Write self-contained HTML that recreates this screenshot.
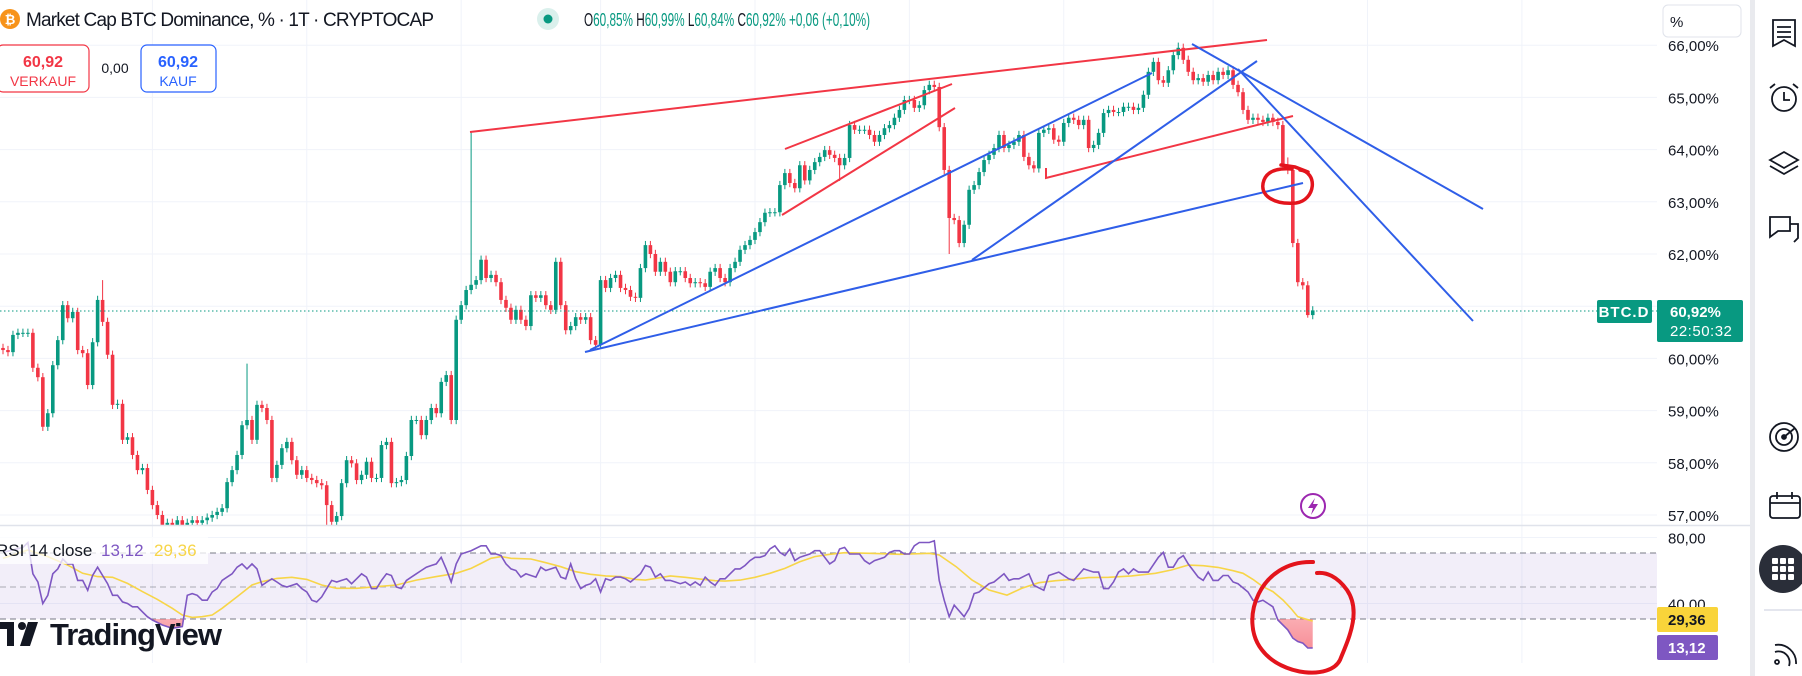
<!DOCTYPE html>
<html><head><meta charset="utf-8">
<style>
html,body{margin:0;padding:0;background:#fff;}
body{width:1802px;height:676px;overflow:hidden;font-family:"Liberation Sans",sans-serif;}
svg{display:block}
</style></head>
<body>
<svg id="chart" width="1802" height="676" viewBox="0 0 1802 676" xmlns="http://www.w3.org/2000/svg">
<defs>
<clipPath id="mainClip"><rect x="0" y="0" width="1657" height="525"/></clipPath>
<clipPath id="rsiClip"><rect x="0" y="526" width="1657" height="137"/></clipPath>
<clipPath id="below30"><rect x="0" y="619" width="1657" height="44"/></clipPath>
<linearGradient id="pinkGrad" x1="0" y1="0" x2="0" y2="1"><stop offset="0" stop-color="#ffffff" stop-opacity="0.6"/><stop offset="1" stop-color="#f23645" stop-opacity="0.55"/></linearGradient>
</defs>
<g id="grid"></g>
<g id="candles" clip-path="url(#mainClip)"></g>
<line x1="0" y1="311" x2="1657" y2="311" stroke="#089981" stroke-width="1" stroke-dasharray="1.5,2.5"/>
<g id="drawings" fill="none" stroke-width="2">
<line x1="470" y1="132" x2="1267" y2="40" stroke="#f23645"/>
<line x1="785" y1="149" x2="952" y2="84" stroke="#f23645"/>
<line x1="782" y1="215" x2="955" y2="108" stroke="#f23645"/>
<polyline points="1046,168 1046,178 1293,116" stroke="#f23645"/>
<line x1="585" y1="352" x2="1303" y2="183" stroke="#2f5ee8"/>
<line x1="590" y1="350" x2="1152" y2="73" stroke="#2f5ee8"/>
<line x1="972" y1="260" x2="1257" y2="61" stroke="#2f5ee8"/>
<line x1="1192" y1="44" x2="1483" y2="209" stroke="#2f5ee8"/>
<line x1="1238" y1="69" x2="1473" y2="321" stroke="#2f5ee8"/>
<path d="M1281,165 L1295,167 L1308,172 M1300,170 C1318,172 1316,200 1296,203 C1275,205 1258,196 1264,180 C1268,170 1280,168 1292,169" stroke="#e3141c" stroke-width="3.5" stroke-linecap="round"/>
</g>
<g>
<circle cx="1313" cy="506" r="12" fill="#fff" stroke="#9c27b0" stroke-width="2"/>
<path d="M1315,498 L1308,508 L1313,508 L1311,515 L1318,504 L1313,504 Z" fill="#9c27b0"/>
</g>
<line x1="0" y1="525.5" x2="1752" y2="525.5" stroke="#e0e3eb" stroke-width="1.5"/>
<g id="rsi">
<rect x="0" y="553" width="1657" height="66" fill="#7e57c2" fill-opacity="0.1"/>
<line x1="0" y1="553" x2="1657" y2="553" stroke="#787b86" stroke-dasharray="6,4"/>
<line x1="0" y1="587" x2="1657" y2="587" stroke="#787b86" stroke-opacity="0.6" stroke-dasharray="6,4"/>
<line x1="0" y1="619" x2="1657" y2="619" stroke="#787b86" stroke-dasharray="6,4"/>
<g id="rsiLines" clip-path="url(#rsiClip)"></g>
</g>
<path d="M1313,562 C1260,560 1238,620 1262,650 C1282,676 1330,680 1340,660 C1348,640 1362,612 1347,590 C1337,576 1326,572 1317,573" fill="none" stroke="#e3141c" stroke-width="4" stroke-linecap="round"/>
<g>
<rect x="0" y="537" width="208" height="27" fill="#fff" fill-opacity="0.75"/>
<text x="-4" y="556" font-size="17" fill="#131722">RSI 14 close</text>
<text x="101" y="556" font-size="17" fill="#7e57c2">13,12</text>
<text x="154" y="556" font-size="17" fill="#f7d548">29,36</text>
</g>
<g>
<rect x="0" y="622" width="14" height="7" fill="#131722"/>
<rect x="7" y="622" width="7" height="24" fill="#131722"/>
<circle cx="22" cy="626" r="4" fill="#131722"/>
<path d="M28,622 L38,622 L30,646 L20,646 Z" fill="#131722"/>
<text x="50" y="645" font-size="31" font-weight="bold" fill="#131722" textLength="172">TradingView</text>
</g>
<!-- header -->
<g>
<circle cx="10" cy="19" r="10" fill="#f7931a"/>
<text x="10" y="24" font-size="13" font-weight="bold" fill="#fff" text-anchor="middle">₿</text>
<text x="26" y="26" font-size="19" fill="#131722" textLength="408">Market Cap BTC Dominance, % · 1T · CRYPTOCAP</text>
<circle cx="548" cy="19" r="11" fill="#089981" fill-opacity="0.15"/>
<circle cx="548" cy="19" r="4.5" fill="#089981"/>
<text x="584" y="26" font-size="18" textLength="286" lengthAdjust="spacingAndGlyphs"><tspan fill="#131722">O</tspan><tspan fill="#089981">60,85%</tspan><tspan fill="#131722"> H</tspan><tspan fill="#089981">60,99%</tspan><tspan fill="#131722"> L</tspan><tspan fill="#089981">60,84%</tspan><tspan fill="#131722"> C</tspan><tspan fill="#089981">60,92% +0,06 (+0,10%)</tspan></text>
</g>
<g>
<rect x="-3" y="45" width="92" height="47" rx="6" fill="#fff" stroke="#f23645" stroke-width="1.2"/>
<text x="43" y="67" font-size="16" font-weight="bold" fill="#f23645" text-anchor="middle">60,92</text>
<text x="43" y="86" font-size="14" fill="#f23645" text-anchor="middle">VERKAUF</text>
</g>
<text x="115" y="73" font-size="14" fill="#131722" text-anchor="middle">0,00</text>
<g>
<rect x="141" y="45" width="75" height="47" rx="6" fill="#fff" stroke="#2962ff" stroke-width="1.2"/>
<text x="178" y="67" font-size="16" font-weight="bold" fill="#2962ff" text-anchor="middle">60,92</text>
<text x="178" y="86" font-size="14" fill="#2962ff" text-anchor="middle">KAUF</text>
</g>
<!-- right axis -->
<g id="axis"></g>
<g>
<rect x="1663" y="5" width="78" height="32" rx="5" fill="#fff" stroke="#e0e3eb"/>
<text x="1670" y="27" font-size="15" fill="#131722">%</text>
</g>
<g>
<rect x="1597" y="300" width="55" height="23" rx="2" fill="#089981"/>
<text x="1624" y="317" font-size="15" font-weight="bold" fill="#fff" text-anchor="middle" letter-spacing="1">BTC.D</text>
</g>
<g>
<rect x="1657" y="300" width="86" height="42" rx="2" fill="#089981"/>
<text x="1670" y="317" font-size="15" font-weight="bold" fill="#fff">60,92%</text>
<text x="1670" y="336" font-size="15" fill="#fff" letter-spacing="0.5">22:50:32</text>
</g>
<g>
<rect x="1657" y="607" width="61" height="25" rx="2" fill="#f9d43a"/>
<text x="1668" y="625" font-size="15" font-weight="bold" fill="#131722">29,36</text>
</g>
<g>
<rect x="1657" y="635" width="61" height="25" rx="2" fill="#7e57c2"/>
<text x="1668" y="653" font-size="15" font-weight="bold" fill="#fff">13,12</text>
</g>
<!-- sidebar -->
<rect x="1750" y="0" width="5" height="676" fill="#e9eaee"/>
<g fill="none" stroke="#131722" stroke-width="1.8">
<g><path d="M1773,20 L1795,20 L1795,46 L1784,40 L1773,46 Z"/><path d="M1777,27 H1791 M1777,32 H1791 M1777,37 H1791"/></g>
<g><circle cx="1784" cy="99" r="12"/><path d="M1784,92 V100 H1790 M1770,88 L1775,84 M1798,88 L1793,84"/></g>
<g><path d="M1770,160 L1784,152 L1798,160 L1784,168 Z M1770,166 L1784,174 L1798,166"/></g>
<g><path d="M1770,217 H1790 V231 H1778 L1770,237 Z M1790,224 H1798 V238 L1794,242"/></g>
<g><circle cx="1784" cy="437" r="14"/><circle cx="1784" cy="437" r="8"/><circle cx="1784" cy="437" r="2" fill="#131722"/><path d="M1784,437 L1795,428"/></g>
<g><rect x="1770" y="496" width="30" height="22" rx="3"/><path d="M1770,503 H1800 M1777,492 V499 M1792,492 V499"/></g>
<line x1="1764" y1="610" x2="1802" y2="610" stroke="#e0e3eb"/>
<g><path d="M1775,645 A18,18 0 0 1 1796,664 M1775,652 A11,11 0 0 1 1789,666"/><circle cx="1777" cy="662" r="2"/></g>
</g>
<g>
<circle cx="1783" cy="569" r="24" fill="#2a2e39"/>
<g id="dots" fill="#fff"></g>
</g>
</svg>
<script>
// ---- data ----
const firstOpen = 60.20;
const closes = [
60.16,60.12,60.45,60.49,60.49,60.49,59.82,59.64,58.69,58.95,
59.87,60.35,61.02,60.77,60.89,60.16,60.10,59.49,60.31,61.12,
60.70,60.07,59.11,59.13,58.44,58.49,58.15,57.86,57.90,57.48,
57.19,57.00,56.81,56.85,56.81,56.90,56.81,56.85,56.90,56.85,
56.90,56.95,57.00,57.06,57.13,57.63,57.86,58.15,58.72,58.82,
58.44,59.11,59.05,58.82,57.71,57.96,58.28,58.40,58.05,57.77,
57.86,57.71,57.67,57.61,57.57,57.19,56.87,56.98,57.61,58.05,
57.99,57.67,57.77,58.02,57.71,57.71,58.34,58.40,57.61,57.63,
57.67,58.13,58.82,58.82,58.53,58.82,59.05,58.95,59.55,59.68,
58.82,60.74,61.02,61.31,61.41,61.50,61.89,61.54,61.60,61.46,
61.12,60.97,60.74,60.93,60.74,60.62,61.21,61.16,61.21,61.02,
60.93,61.85,61.02,60.54,60.62,60.79,60.74,60.79,60.35,60.26,
61.50,61.35,61.54,61.60,61.35,61.31,61.18,61.16,61.73,62.17,
62.00,61.66,61.85,61.66,61.46,61.67,61.67,61.54,61.44,61.46,
61.44,61.37,61.66,61.73,61.54,61.46,61.73,61.85,62.08,62.17,
62.27,62.42,62.61,62.79,62.80,62.80,63.32,63.55,63.36,63.26,
63.70,63.41,63.61,63.76,63.86,63.99,63.90,63.84,63.70,63.84,
64.47,64.38,64.38,64.38,64.28,64.15,64.28,64.41,64.47,64.61,
64.76,64.95,64.95,64.80,64.85,65.14,65.24,65.20,64.43,63.61,
62.69,62.65,62.21,62.56,63.23,63.32,63.57,63.80,63.90,64.03,
64.28,64.03,64.09,64.15,64.28,63.86,63.70,63.64,64.32,64.38,
64.41,64.19,64.15,64.51,64.61,64.57,64.47,64.57,64.03,64.09,
64.32,64.70,64.76,64.72,64.72,64.82,64.82,64.76,64.80,65.05,
65.49,65.68,65.33,65.28,65.52,65.81,65.95,65.72,65.49,65.33,
65.37,65.30,65.43,65.33,65.49,65.43,65.52,65.24,65.10,64.76,
64.57,64.61,64.57,64.53,64.61,64.53,64.47,63.70,63.61,62.21,
61.46,61.40,60.83,60.92];
const spikeIdx = [20, 49, 94, 236, 258];
const spikeHigh = [61.50, 59.90, 64.34, 66.05, 63.85];
const dipIdx = [32, 65, 120, 168, 190, 262];
const dipLow = [56.50, 56.70, 60.20, 63.40, 62.00, 60.78];
const priceTicks = [57,58,59,60,61,62,63,64,65,66];
const priceTickLabels = ["57,00%","58,00%","59,00%","60,00%","","62,00%","63,00%","64,00%","65,00%","66,00%"];
const timeGridBars = [30, 61, 92, 120, 151, 182, 213, 243, 274, 305];

const rsiBar = [0,4,5,6,7,8,9,10,11,12,13,14,15,16,17,18,19,20,21,22,23,24,25,26,27,28,29,30,32,34,36,37,38,39,40,41,42,43,44,45,46,47,48,49,50,51,52,53,54,55,56,57,58,59,60,61,62,63,64,65,66,67,68,69,70,71,72,73,74,75,76,77,78,79,80,81,82,83,84,85,86,87,88,89,90,91,92,93,94,96,97,98,99,100,101,102,103,104,105,106,107,108,109,110,111,112,113,114,115,116,117,118,119,120,121,122,123,124,125,126,128,129,130,131,132,133,134,135,136,137,138,139,140,141,142,143,144,145,146,147,148,149,150,151,152,153,154,155,156,157,158,159,160,161,162,163,164,165,166,167,168,169,170,171,172,173,174,175,176,177,178,179,180,181,182,183,184,185,186,187,188,189,190,191,193,194,195,196,198,199,201,202,203,204,206,207,209,210,212,214,215,217,219,220,221,222,223,224,225,226,227,228,230,232,233,234,235,236,237,238,239,240,241,242,243,244,245,246,247,248,250,251,252,253,254,255,256,258,259,260,261,262,263];
const rsiVal = [71,74,77,58,53,40,45,58,61,67,64,64,54,54,48,57,62,57,52,45,45,41,40,38,38,35,32,30,27,25,26,45,46,45,42,42,47,49,54,56,58,62,64,61,64,61,51,53,55,53,51,50,51,52,49,47,42,41,44,49,54,53,54,55,52,55,58,56,49,49,54,58,57,50,49,54,56,58,60,62,63,64,68,61,53,64,70,71,72,75,75,70,70,69,64,61,60,56,58,57,56,62,60,61,62,56,55,64,55,49,51,52,55,47,55,54,56,56,55,53,58,63,62,56,58,54,54,53,52,53,51,53,51,56,53,51,55,55,58,61,61,63,66,68,68,69,73,75,71,69,73,66,68,69,70,72,72,68,64,66,73,74,70,70,70,66,64,66,67,68,71,72,72,70,70,75,77,77,77,78,54,42,32,39,32,37,46,47,52,53,58,54,55,55,58,51,48,57,59,55,54,61,59,59,49,49,53,59,61,58,61,59,59,68,71,62,62,67,69,64,60,56,54,59,54,54,57,57,53,52,47,42,41,42,40,38,30,24,19,17,16,13,13.12];
const maBar = [0,5,9,13,16,19,22,25,28,31,34,36,38,40,42,44,47,50,52,55,58,61,64,67,71,75,79,83,87,91,94,96,98,100,102,106,109,112,115,118,121,124,127,129,131,134,137,140,143,145,148,151,154,157,160,163,166,169,174,180,186,188,191.4,194.6,198,201.6,204.6,208,211.4,214.6,218,222,226.6,231.4,234.6,238,241,244,247,249,251,253,255,257,258.6,260,263];
const maVal = [67.4,72.4,68.4,63.3,58.3,56.3,55.9,52.2,47.2,42.5,37.1,33,31.6,32,33,37.1,44.1,51.2,53.2,55.2,55.9,54.6,51.2,49.2,49.2,50.2,51.2,54.2,56.3,58.3,61.3,64.3,67.4,68.4,67.4,67,64.7,62.3,59.3,57.7,56.7,56.3,54.6,54.2,55.2,56.7,55.9,54.8,53.8,53.6,54.2,55.9,58.3,61.3,65.3,68.4,69.8,70.8,70.4,69.8,70.4,69.4,62.3,54.2,48.2,45.1,49.2,52.6,53.8,54.6,55.7,55.9,56.7,58.3,60.3,63.3,62.9,61.9,59.9,58.3,54.6,50.2,47.2,42.1,37.1,32,29.36];
const rsiTicks = [80, 40];
const rsiTickLabels = ["80,00", "40,00"];

// ---- scales ----
const barX = i => 3 + i * 4.98;
const priceY = v => 254 + (62 - v) * 52.2;
const rsiY = v => 587 - (v - 50) * 1.65;
const NS = "http://www.w3.org/2000/svg";
function mk(tag, attrs, parent){const e=document.createElementNS(NS,tag);for(const k in attrs)e.setAttribute(k,attrs[k]);parent.appendChild(e);return e;}

// grid
const grid = document.getElementById('grid');
priceTicks.forEach(t => {
  const l = mk('line',{x1:0,x2:1657,y1:priceY(t),y2:priceY(t),stroke:'#f0f3fa','stroke-width':1},grid);
  
  
});
rsiTicks.forEach(t => {
  const l = mk('line',{x1:0,x2:1657,y1:rsiY(t),y2:rsiY(t),stroke:'#f0f3fa','stroke-width':1},grid);
  
  
});
timeGridBars.forEach(b => {
  const l = mk('line',{x1:barX(b),x2:barX(b),y1:0,y2:663,stroke:'#f0f3fa','stroke-width':1},grid);
  
  
});

// axis labels
const axis = document.getElementById('axis');
priceTicks.forEach((t,i) => {
  if(!priceTickLabels[i]) return;
  const tx = mk('text',{x:1668,y:priceY(t)+6,'font-size':15,fill:'#131722'},axis);
  tx.textContent = priceTickLabels[i];
  
  
});
rsiTicks.forEach((t,i) => {
  const tx = mk('text',{x:1668,y:rsiY(t)+6,'font-size':15,fill:'#131722'},axis);
  tx.textContent = rsiTickLabels[i];
  
  
});

// candles
const cg = document.getElementById('candles');
closes.forEach((c,i) => {
  const o = i === 0 ? firstOpen : closes[i-1];
  let hi = Math.max(o,c) + 0.08, lo = Math.min(o,c) - 0.08;
  const si = spikeIdx.indexOf(i); if (si >= 0) hi = spikeHigh[si];
  const di = dipIdx.indexOf(i); if (di >= 0) lo = dipLow[di];
  const up = c >= o;
  const col = up ? '#089981' : '#f23645';
  const x = barX(i);
  const g = mk('g',{},cg);
  
  
  mk('line',{x1:x,x2:x,y1:priceY(hi),y2:priceY(lo),stroke:col,'stroke-width':1},g);
  const top = priceY(Math.max(o,c)), bot = priceY(Math.min(o,c));
  mk('rect',{x:x-1.8,y:top,width:3.6,height:Math.max(1,bot-top),fill:col},g);
});

// RSI lines
const rl = document.getElementById('rsiLines');
const rsiPts = rsiBar.map((b,i) => barX(b).toFixed(1)+','+rsiY(rsiVal[i]).toFixed(1));
const area = mk('polygon',{points: barX(rsiBar[0])+',619 '+rsiPts.join(' ')+' '+barX(rsiBar[rsiBar.length-1])+',619', fill:'url(#pinkGrad)','clip-path':'url(#below30)'},rl);


const ma = mk('polyline',{points: maBar.map((b,i)=>barX(b).toFixed(1)+','+rsiY(maVal[i]).toFixed(1)).join(' '),fill:'none',stroke:'#f7d548','stroke-width':1.6},rl);


const rsiLine = mk('polyline',{points: rsiPts.join(' '),fill:'none',stroke:'#7e57c2','stroke-width':1.6},rl);



// apps dots
const dots = document.getElementById('dots');
for (let r=0;r<3;r++) for (let c=0;c<3;c++) mk('rect',{x:1772+c*8,y:558+r*8,width:6,height:6,rx:1},dots);
</script>
</body></html>
